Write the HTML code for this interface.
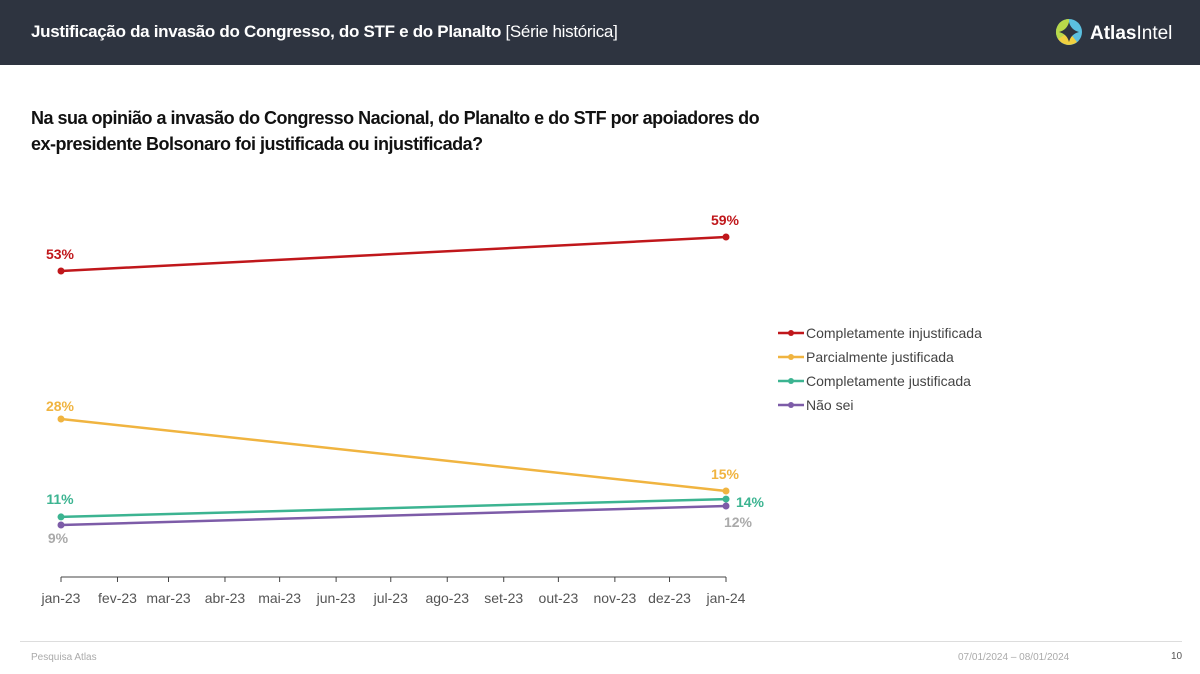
<!DOCTYPE html>
<html><head><meta charset="utf-8">
<style>
body{margin:0;width:1200px;height:674px;background:#fff;font-family:"Liberation Sans",sans-serif;overflow:hidden;position:relative}
#hdr{position:absolute;left:0;top:0;width:1200px;height:65px;background:#2e3440}
#ttl{position:absolute;left:31px;top:22px;color:#fff;font-size:17px;letter-spacing:-0.3px}
#q{position:absolute;left:31px;top:105px;font-size:18px;font-weight:bold;color:#111;line-height:26px;width:800px;white-space:nowrap;letter-spacing:-0.5px}
#foot{position:absolute;left:20px;top:641px;width:1162px;border-top:1px solid #ddd}
.ft{position:absolute;font-size:10px;color:#aaa}
</style></head><body>
<div id="hdr">
<div id="ttl"><b>Justificação da invasão do Congresso, do STF e do Planalto</b> [Série histórica]</div>
<svg style="position:absolute;left:1055px;top:17px" width="140" height="32">
<circle cx="14" cy="15" r="13" fill="#5bc0e0"/><path d="M14 2 A13 13 0 0 0 3 22 L14 15Z" fill="#b8d84a"/><path d="M3 22 A13 13 0 0 0 22 25 L14 15Z" fill="#f0d040"/>
<path d="M14 5 Q16 13 24 15 Q16 17 14 25 Q12 17 4 15 Q12 13 14 5Z" fill="#2e3440"/>
<text x="35" y="22" fill="#fff" font-size="19" font-family="Liberation Sans"><tspan font-weight="bold">Atlas</tspan>Intel</text></svg>
</div>
<div id="q">Na sua opinião a invasão do Congresso Nacional, do Planalto e do STF por apoiadores do<br>ex-presidente Bolsonaro foi justificada ou injustificada?</div>
<svg id="chart" style="position:absolute;left:0;top:0" width="1200" height="640"></svg>
<div id="foot"></div>
<div class="ft" style="left:31px;top:652px">Pesquisa Atlas</div>
<div class="ft" style="left:958px;top:652px">07/01/2024 – 08/01/2024</div>
<div class="ft" style="left:1171px;top:651px;color:#555">10</div>
<script>
const monthLabels=["jan-23","fev-23","mar-23","abr-23","mai-23","jun-23","jul-23","ago-23","set-23","out-23","nov-23","dez-23","jan-24"];
const monthDays=[0,31,59,90,120,151,181,212,243,273,304,334,365];
const pointDays=[0,365];
const seriesNames=["Completamente injustificada","Parcialmente justificada","Completamente justificada","Não sei"];
const injust=[53.1,59];
const parcial=[27.4,14.9];
const justif=[10.4,13.5];
const naosei=[9,12.3];
const printed=[["53%","59%"],["28%","15%"],["11%","14%"],["9%","12%"]];
const colors=["#c0171b","#f0b440","#3cb491","#7d5ca8"];
const labelColors=[["#c0171b","#c0171b"],["#f0b440","#f0b440"],["#3cb491","#3cb491"],["#aaa","#aaa"]];
const labelOff=[[[-1,-12],[-1,-12]],[[-1,-8],[-1,-12]],[[-1,-13],[24,8]],[[-3,18],[12,21]]];
const X=d=>61+d*(665/365);
const Y=v=>237+(59-v)*5.76;
const svg=document.getElementById('chart');
const NS="http://www.w3.org/2000/svg";
function mk(t,a){const e=document.createElementNS(NS,t);for(const k in a)e.setAttribute(k,a[k]);svg.appendChild(e);return e;}
const ax=mk('line',{x1:61,x2:726,y1:577,y2:577,stroke:'#444','stroke-width':1});


monthDays.forEach((d,i)=>{
 const t=mk('line',{x1:X(d),x2:X(d),y1:577,y2:582,stroke:'#444'});
 
 
 const l=mk('text',{x:X(d),y:603,'text-anchor':'middle','font-size':14,fill:'#555'});
 l.textContent=monthLabels[i];
 
 
});
[injust,parcial,justif,naosei].forEach((vals,s)=>{
 const p=mk('polyline',{points:vals.map((v,i)=>X(pointDays[i])+','+Y(v)).join(' '),fill:'none',stroke:colors[s],'stroke-width':2.5});
 
 
 vals.forEach((v,i)=>{
  const c=mk('circle',{cx:X(pointDays[i]),cy:Y(v),r:3.5,fill:colors[s]});
  
  
  const t=mk('text',{x:X(pointDays[i])+labelOff[s][i][0],y:Y(v)+labelOff[s][i][1],'text-anchor':'middle','font-size':14,'font-weight':'bold',fill:labelColors[s][i]});
  t.textContent=printed[s][i];
  
  
 });
 const ly=333+s*24;
 const ll=mk('line',{x1:778,x2:804,y1:ly,y2:ly,stroke:colors[s],'stroke-width':2.5});
 
 
 mk('circle',{cx:791,cy:ly,r:3,fill:colors[s]});
 const lt=mk('text',{x:806,y:ly+5,'font-size':14,fill:'#444'});
 lt.textContent=seriesNames[s];
 
 
});
</script>
</body></html>
